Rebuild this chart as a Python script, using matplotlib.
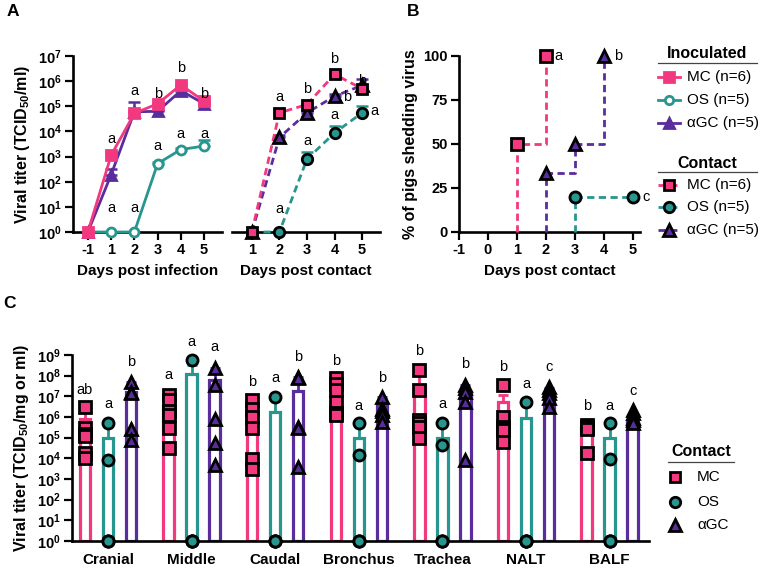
import numpy as np
import matplotlib
matplotlib.use('Agg')
import matplotlib.pyplot as plt
from matplotlib.lines import Line2D
from matplotlib.ticker import FixedLocator, FuncFormatter, NullLocator

plt.rcParams['font.family'] = ['Liberation Sans', 'DejaVu Sans']
plt.rcParams['mathtext.fontset'] = 'custom'
plt.rcParams['mathtext.rm'] = 'Liberation Sans:bold'
plt.rcParams['mathtext.bf'] = 'Liberation Sans:bold'
plt.rcParams['mathtext.it'] = 'Liberation Sans:bold'
plt.rcParams['mathtext.default'] = 'bf'
plt.rcParams['axes.unicode_minus'] = False

PINK = '#F2387F'
TEAL = '#26968E'
PURPLE = '#5A2D9C'

# ---- panel A, inoculated (log10 titer) ----
days_inf = ['-1', '1', '2', '3', '4', '5']
inoc_mc = [0, 3.05, 4.72, 5.1, 5.85, 5.2]
inoc_os = [0, 0, 0, 2.72, 3.28, 3.42]
inoc_agc = [0, 2.28, 4.78, 4.8, 5.62, 5.1]
inoc_mc_err = [0, 3.2, 4.8, 5.15, 5.9, 5.25]
inoc_os_err = [0, 0, 0, 2.8, 3.35, 3.64]
inoc_agc_err = [0, 2.5, 5.16, 4.85, 5.7, 5.15]
inoc_top_letters = ['', 'a', 'a', 'b', 'b', 'b']
inoc_top_y = [0, 3.68, 5.6, 5.5, 6.53, 5.5]
inoc_low_letters = ['', 'a', 'a', 'a', 'a', 'a']
inoc_low_y = [0, 0.97, 0.97, 3.42, 3.89, 3.91]

# ---- panel A, contact ----
days_con = [1, 2, 3, 4, 5]
con_mc = [0, 4.74, 5.07, 6.27, 5.7]
con_os = [0, 0, 2.9, 3.94, 4.74]
con_agc = [0, 3.76, 4.74, 5.4, 5.83]
con_mc_err = [0, 4.8, 5.12, 6.3, 5.75]
con_os_err = [0, 0, 3.2, 4.23, 5.03]
con_agc_err = [0, 3.85, 4.8, 5.5, 6.07]
con_letters = ['a', 'a', 'b', 'a', 'b', 'a', 'b', 'b', 'a']
con_letter_x = [2, 2, 3, 3, 4, 4, 4.45, 5, 5.45]
con_letter_y = [5.37, 0.9, 5.67, 3.6, 6.88, 4.65, 5.37, 6.0, 4.8]

# ---- panel B, % shedding (contact) ----
b_mc_days = [1, 2]
b_mc_pct = [50, 100]
b_os_days = [3, 5]
b_os_pct = [20, 20]
b_agc_days = [2, 3, 4]
b_agc_pct = [33.3, 50, 100]

# ---- panel C, tissues (log10 titer, 0 = below detection) ----
tissues = ['Cranial', 'Middle', 'Caudal', 'Bronchus', 'Trachea', 'NALT', 'BALF']
mc_pts = [[6.46, 5.48, 5.2, 5.07, 4.28, 4.0],
          [7.06, 6.82, 6.28, 6.1, 5.48, 4.52],
          [6.82, 6.41, 5.98, 5.49, 3.99, 3.5],
          [7.87, 7.6, 7.3, 6.74, 6.17, 6.1],
          [8.27, 7.3, 5.85, 5.7, 5.52, 4.96],
          [7.54, 5.98, 5.52, 5.4, 5.36, 4.8],
          [5.6, 5.5, 5.4, 4.25]]
os_pts = [[5.69, 3.94, 0, 0, 0],
          [8.76, 0, 0, 0, 0],
          [6.98, 0, 0, 0, 0],
          [5.69, 4.15, 0, 0, 0],
          [5.69, 4.64, 0, 0, 0],
          [6.74, 0, 0, 0, 0],
          [5.69, 3.99, 0, 0, 0]]
agc_pts = [[7.7, 7.2, 7.14, 5.44, 4.88],
           [8.35, 7.54, 5.88, 4.72, 3.67],
           [7.95, 7.9, 5.52, 5.45, 3.59],
           [6.98, 6.41, 6.3, 6.09, 5.77],
           [7.54, 7.4, 7.22, 6.74, 3.91],
           [7.46, 7.3, 7.14, 6.9, 6.49],
           [6.35, 6.2, 5.95, 5.85, 5.7]]
mc_bar = [5.88, 6.55, 6.25, 7.4, 7.55, 6.74, 5.52]
os_bar = [5.0, 8.06, 6.25, 4.96, 5.0, 5.96, 4.96]
agc_bar = [7.22, 7.79, 7.25, 6.58, 7.14, 6.98, 5.8]
mc_err = [6.3, 7.1, 6.85, 7.9, 8.2, 7.06, 5.75]
os_err = [5.6, 8.5, 6.85, 5.6, 5.6, 6.6, 5.6]
agc_err = [7.7, 8.35, 7.95, 6.95, 7.55, 7.4, 6.2]
mc_letters = ['ab', 'a', 'b', 'b', 'b', 'b', 'b']
mc_letter_y = [7.33, 8.03, 7.7, 8.72, 9.2, 8.4, 6.53]
os_letters = ['a', 'a', 'a', 'a', 'a', 'a', 'a']
os_letter_y = [6.62, 9.64, 7.9, 6.53, 6.62, 7.59, 6.53]
agc_letters = ['b', 'a', 'b', 'b', 'b', 'c', 'c']
agc_letter_y = [8.64, 9.4, 8.92, 7.87, 8.56, 8.4, 7.25]

W, H = 767, 570
fig = plt.figure(figsize=(W / 100, H / 100), dpi=100)


def box(x0, y0, x1, y1):
    return [x0 / W, 1 - y1 / H, (x1 - x0) / W, (y1 - y0) / H]


def fpt(x, y):
    return x / W, 1 - y / H


def pow10(v):
    return 10 ** np.asarray(v, dtype=float)


def style(ax, log=True):
    for s in ['top', 'right']:
        ax.spines[s].set_visible(False)
    for s in ['left', 'bottom']:
        ax.spines[s].set_linewidth(1.9)
    ax.tick_params(direction='out', length=6, width=1.6, labelsize=10.5, pad=2)
    for lab in ax.get_xticklabels() + ax.get_yticklabels():
        lab.set_fontweight('bold')


logfmt = FuncFormatter(lambda v, p: r'$10^{%d}$' % round(np.log10(v)))

# ---------- A left ----------
axA = fig.add_axes(box(73, 56, 222, 232))
xi = np.arange(len(days_inf))
for vals, err, col, mk, ms, mfc in [(inoc_os, inoc_os_err, TEAL, 'o', 6.5, 'white'),
                                    (inoc_agc, inoc_agc_err, PURPLE, '^', 7, PURPLE),
                                    (inoc_mc, inoc_mc_err, PINK, 's', 7, PINK)]:
    y = pow10(vals)
    axA.errorbar(xi, y, yerr=[np.zeros(len(y)), pow10(err) - y], fmt='none',
                 ecolor=col, elinewidth=1.8, capsize=4, capthick=1.8, zorder=2, clip_on=False)
    axA.plot(xi, y, color=col, lw=2, marker=mk, ms=ms, mfc=mfc, mec=col, mew=2,
             clip_on=False, zorder=3)
for i in range(len(days_inf)):
    if inoc_top_letters[i]:
        axA.text(xi[i], 10 ** inoc_top_y[i], inoc_top_letters[i], ha='center', va='center', fontsize=10.5)
    if inoc_low_letters[i]:
        axA.text(xi[i], 10 ** inoc_low_y[i], inoc_low_letters[i], ha='center', va='center', fontsize=10.5)
axA.set_yscale('log')
axA.set_ylim(1, 1e7)
axA.set_xlim(-0.64, 5.77)
axA.yaxis.set_major_locator(FixedLocator([10 ** k for k in range(8)]))
axA.yaxis.set_minor_locator(NullLocator())
axA.yaxis.set_major_formatter(logfmt)
axA.set_xticks(xi)
axA.set_xticklabels(days_inf)
style(axA)
axA.set_xlabel('Days post infection', fontsize=11, fontweight='bold', labelpad=5)
axA.set_ylabel(r'Viral titer (TCID$_{50}$/ml)', fontsize=11.5, fontweight='bold', labelpad=4)

# ---------- A right ----------
axA2 = fig.add_axes(box(232, 56, 380, 232))
dash = (0, (2.6, 1.6))
for vals, err, col, mk, ms in [(con_os, con_os_err, TEAL, 'o', 7.5),
                               (con_agc, con_agc_err, PURPLE, '^', 8),
                               (con_mc, con_mc_err, PINK, 's', 7.5)]:
    y = pow10(vals)
    axA2.errorbar(days_con, y, yerr=[np.zeros(len(y)), pow10(err) - y], fmt='none',
                  ecolor=col, elinewidth=1.8, capsize=4, capthick=1.8, zorder=2, clip_on=False)
    axA2.plot(days_con, y, color=col, lw=2, ls=dash, zorder=3, clip_on=False)
    axA2.plot(days_con, y, ls='none', marker=mk, ms=ms, mfc=col, mec='black', mew=2,
              clip_on=False, zorder=4)
for t, x, yv in zip(con_letters, con_letter_x, con_letter_y):
    axA2.text(x, 10 ** yv, t, ha='center', va='center', fontsize=10.5)
axA2.set_yscale('log')
axA2.set_ylim(1, 1e7)
axA2.set_xlim(0.28, 5.65)
axA2.set_xticks(days_con)
axA2.yaxis.set_visible(False)
axA2.spines['left'].set_visible(False)
style(axA2)
axA2.set_xlabel('Days post contact', fontsize=11, fontweight='bold', labelpad=5)

# ---------- B ----------
axB = fig.add_axes(box(459, 56, 640, 232))
for days, pct, col, mk, ms in [(b_mc_days, b_mc_pct, PINK, 's', 8),
                               (b_agc_days, b_agc_pct, PURPLE, '^', 8.5),
                               (b_os_days, b_os_pct, TEAL, 'o', 8)]:
    axB.step([days[0]] + days, [0] + pct, where='post', color=col, lw=2, ls=dash,
             zorder=3, clip_on=False)
    axB.plot(days, pct, ls='none', marker=mk, ms=ms, mfc=col, mec='black', mew=2,
             zorder=4, clip_on=False)
axB.text(b_mc_days[-1] + 0.45, b_mc_pct[-1], 'a', ha='center', va='center', fontsize=10.5)
axB.text(b_agc_days[-1] + 0.48, b_agc_pct[-1], 'b', ha='center', va='center', fontsize=10.5)
axB.text(b_os_days[-1] + 0.45, b_os_pct[-1], 'c', ha='center', va='center', fontsize=10.5)
axB.set_xlim(-1, 5.25)
axB.set_ylim(0, 100)
axB.set_xticks(range(-1, 6))
axB.set_yticks([0, 25, 50, 75, 100])
style(axB)
axB.set_xlabel('Days post contact', fontsize=11, fontweight='bold', labelpad=5)
axB.set_ylabel('% of pigs shedding virus', fontsize=11.5, fontweight='bold', labelpad=4)

# legend for A/B
def legend_block(title, ytitle, yline, entries, x0, x1, xm, xt):
    fig.text(*fpt((x0 + x1) / 2, ytitle), title, ha='center', va='center',
             fontsize=11.5, fontweight='bold')
    fig.add_artist(Line2D([x0 / W, x1 / W], [1 - yline / H] * 2, color='#444444', lw=0.9))
    for (lab, col, mk, mfc, mec, ls, ms), yy in entries:
        if ls is not None:
            fig.add_artist(Line2D([(xm - 11) / W, (xm + 11) / W], [1 - yy / H] * 2,
                                  color=col, lw=2, ls=ls))
        fig.add_artist(Line2D([xm / W], [1 - yy / H], ls='none', marker=mk, ms=ms,
                              mfc=mfc, mec=mec, mew=2))
        fig.text(*fpt(xt, yy), lab, ha='left', va='center', fontsize=11)

legend_block('Inoculated', 53, 63,
             [(('MC (n=6)', PINK, 's', PINK, PINK, '-', 6.5), 77),
              (('OS (n=5)', TEAL, 'o', 'white', TEAL, '-', 6), 100),
              (('αGC (n=5)', PURPLE, '^', PURPLE, PURPLE, '-', 6.5), 123)],
             658, 757, 669, 687)
legend_block('Contact', 163, 172,
             [(('MC (n=6)', PINK, 's', PINK, 'black', dash, 7.5), 185),
              (('OS (n=5)', TEAL, 'o', TEAL, 'black', dash, 7.5), 207),
              (('αGC (n=5)', PURPLE, '^', PURPLE, 'black', dash, 8), 230)],
             658, 757, 669, 687)

# ---------- C ----------
axC = fig.add_axes(box(72, 355, 649, 541))
xc = np.arange(len(tissues))
off = 0.275
bw = 0.125
for k, (pts, bars, errs, col, mk, ms) in enumerate([(mc_pts, mc_bar, mc_err, PINK, 's', 8),
                                                    (os_pts, os_bar, os_err, TEAL, 'o', 8),
                                                    (agc_pts, agc_bar, agc_err, PURPLE, '^', 8.5)]):
    xs = xc + (k - 1) * off
    top = pow10(bars)
    axC.bar(xs, top - 1, bottom=1, width=bw, color='white', edgecolor=col, lw=2.3, zorder=2)
    axC.errorbar(xs, top, yerr=[np.zeros(len(top)), pow10(errs) - top], fmt='none',
                 ecolor=col, elinewidth=2, capsize=3.5, capthick=2, zorder=2.5)
    for x, p in zip(xs, pts):
        axC.plot(np.full(len(p), x), pow10(p), ls='none', marker=mk, ms=ms, mfc=col,
                 mec='black', mew=2, zorder=4, clip_on=False)
for x, t, yv in zip(xc - off, mc_letters, mc_letter_y):
    axC.text(x, 10 ** yv, t, ha='center', va='center', fontsize=10.5)
for x, t, yv in zip(xc, os_letters, os_letter_y):
    axC.text(x, 10 ** yv, t, ha='center', va='center', fontsize=10.5)
for x, t, yv in zip(xc + off, agc_letters, agc_letter_y):
    axC.text(x, 10 ** yv, t, ha='center', va='center', fontsize=10.5)
axC.set_yscale('log')
axC.set_ylim(1, 1e9)
axC.set_xlim(-0.43, 6.47)
axC.yaxis.set_major_locator(FixedLocator([10 ** k for k in range(10)]))
axC.yaxis.set_minor_locator(NullLocator())
axC.yaxis.set_major_formatter(logfmt)
axC.set_xticks(xc)
axC.set_xticklabels(tissues)
style(axC)
axC.tick_params(axis='x', length=0, pad=9, labelsize=11)
axC.set_ylabel(r'Viral titer (TCID$_{50}$/mg or ml)', fontsize=11.5, fontweight='bold', labelpad=4)

# legend for C
fig.text(*fpt(701, 452), 'Contact', ha='center', va='center', fontsize=11.5, fontweight='bold')
fig.add_artist(Line2D([668 / W, 734 / W], [1 - 462 / H] * 2, color='#444444', lw=0.9))
for lab, col, mk, ms, yy in [('MC', PINK, 's', 7.5, 477), ('OS', TEAL, 'o', 7.5, 502),
                             ('αGC', PURPLE, '^', 8, 525)]:
    fig.add_artist(Line2D([675 / W], [1 - yy / H], ls='none', marker=mk, ms=ms,
                          mfc=col, mec='black', mew=2))
    fig.text(*fpt(697, yy), lab, ha='left', va='center', fontsize=11)

# panel letters
fig.text(*fpt(13, 11), 'A', ha='center', va='center', fontsize=12.5, fontweight='bold')
fig.text(*fpt(413, 11), 'B', ha='center', va='center', fontsize=12.5, fontweight='bold')
fig.text(*fpt(9, 303), 'C', ha='center', va='center', fontsize=12.5, fontweight='bold')

fig.savefig('out.png', dpi=100)
